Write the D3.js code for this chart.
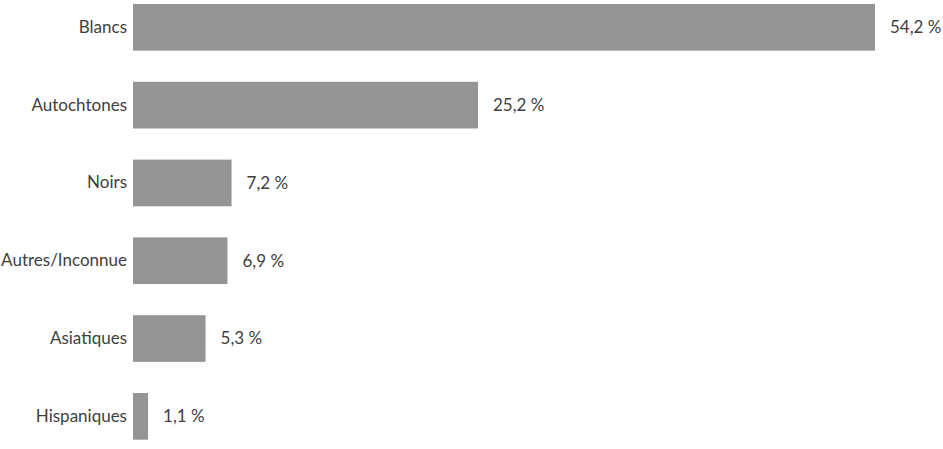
<!DOCTYPE html>
<html><head><meta charset="utf-8">
<script src="https://cdn.jsdelivr.net/npm/d3@7"></script>
<style>body{margin:0;background:#fff;} text{font-family:Lato,"Open Sans",sans-serif;}</style>
</head><body>
<svg id="c" width="943" height="449"></svg>
<script>
const categories = ["Blancs","Autochtones","Noirs","Autres/Inconnue","Asiatiques","Hispaniques"];
const values = [54.2, 25.2, 7.2, 6.9, 5.3, 1.1];
const valueLabels = ["54,2 %","25,2 %","7,2 %","6,9 %","5,3 %","1,1 %"];

const svg = d3.select("#c");
const x0 = 133;
const x = d3.scaleLinear().domain([0, 54.2]).range([x0, 875]);
const y = d3.scaleBand().domain(categories).range([-11.56, 455.24]).paddingInner(0.4).paddingOuter(0.2);

const data = categories.map((c,i)=>({c, v: values[i], l: valueLabels[i]}));

svg.selectAll("rect.bar").data(data).join("rect")
  .attr("class","bar")
  .attr("x", x(0)).attr("y", d=>y(d.c))
  .attr("width", d=>x(d.v)-x(0)).attr("height", y.bandwidth())
  .attr("fill","#959595");

const axis = d3.axisLeft(y).tickSize(0).tickPadding(6);
const g = svg.append("g").attr("transform",`translate(${x0},0)`).call(axis);
g.select(".domain").remove();
g.selectAll("text").attr("font-size",17).attr("fill","#404040").style("font-family","Lato, 'Open Sans', sans-serif");

svg.selectAll("text.val").data(data).join("text")
  .attr("class","val")
  .attr("x", d=>x(d.v)+15).attr("y", d=>y(d.c)+y.bandwidth()/2)
  .attr("dy","0.35em").attr("font-size",17).attr("fill","#404040")
  .text(d=>d.l);
</script>
</body></html>
